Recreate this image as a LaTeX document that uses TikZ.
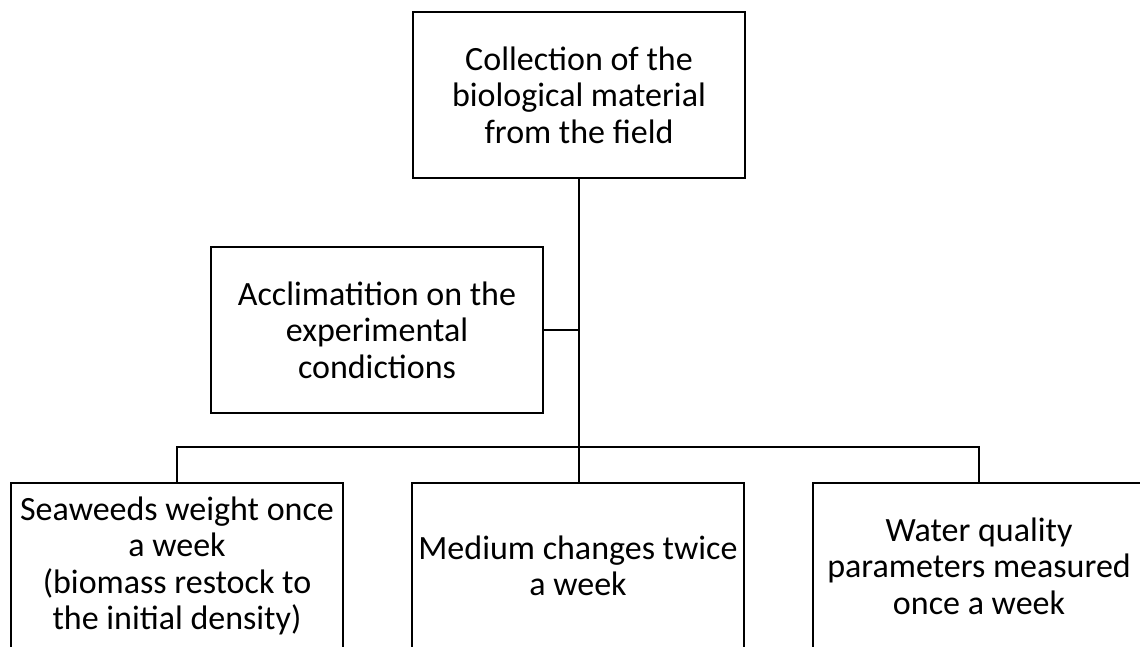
\documentclass[tikz,border=0pt]{standalone}
\usepackage{fontspec}
\setmainfont{Carlito}
\usetikzlibrary{positioning}

\tikzset{
  stagebox/.style={draw, line width=2.6pt, minimum width=332pt, minimum height=166pt,
    inner sep=0pt, align=center, font=\fontsize{34}{36.5}\selectfont},
  link/.style={line width=2.4pt}
}

\begin{document}
\begin{tikzpicture}[x=1pt,y=-1pt]
                    \useasboundingbox (0,0) rectangle (1140,646);
                    \clip (0,0) rectangle (1140,646);

                    \node[stagebox] (collect) at (579,95) {Collection of the\\biological material\\from the field};
                    \node[stagebox] (acclim) at (377,330) {Acclimatition on the\\experimental\\condictions};

                    \node[stagebox] (seaweed) at (177,566) {Seaweeds weight once\\a week\\(biomass restock to\\the initial density)};
                    \node[stagebox] (medium) at (578,566) {Medium changes twice\\a week};
                    \node[stagebox] (water) at (979,566) {Water quality\\parameters measured\\once a week};

                    \coordinate (bus) at (579,447);

                    \draw[link] (collect.south) -- (collect.south |- medium.north);
                    \draw[link] (acclim.east) -- (acclim.east -| collect.south);
                    \draw[link] (seaweed.north) |- (bus) -| (water.north);
                \end{tikzpicture}
\end{document}
